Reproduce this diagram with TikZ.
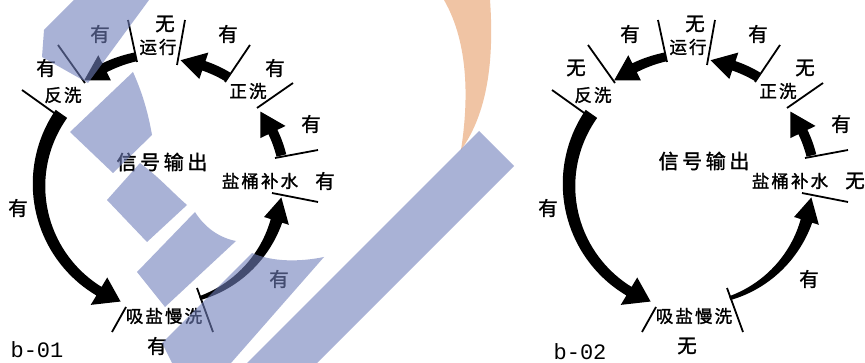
\documentclass[tikz,border=0pt]{standalone}
\usepackage{fontspec}
\newfontfamily\cjk[FakeBold=1.5]{Noto Sans CJK SC}
\newfontfamily\cjksp[FakeBold=1.5,LetterSpace=12]{Noto Sans CJK SC}
\newfontfamily\cjkwide[FakeBold=1.5,LetterSpace=18]{Noto Sans CJK SC}
\newfontfamily\monofam{Liberation Mono}
\usetikzlibrary{calc}
\definecolor{wmblue}{RGB}{113,127,187}
\definecolor{wmorange}{RGB}{240,196,164}
\tikzset{
  tickline/.style={line width=1.8pt, black},
  yw/.style={font=\cjk\fontsize{19.5}{19.5}\selectfont, inner sep=0pt},
  st/.style={font=\cjksp\fontsize{17.5}{17.5}\selectfont, inner sep=0pt},
  ttl/.style={font=\cjkwide\fontsize{20}{20}\selectfont, inner sep=0pt},
  bl/.style={font=\monofam\fontsize{22}{22}\selectfont, inner sep=0pt},
  wm/.style={fill=wmblue, fill opacity=0.6},
}
% tapered curved arrow: cx cy r a1 a2(tip) w1 w2 halfheadwidth
\newcommand\tarr[8]{%
  \pgfmathsetmacro\ab{#5-24/#3*57.2958}%
  \fill[black] plot[domain=#4:\ab,samples=40,variable=\ang]
    ({#1+(#3+(#6+(#7-#6)*(\ang-#4)/(\ab-#4))/2)*cos(\ang)},{#2-(#3+(#6+(#7-#6)*(\ang-#4)/(\ab-#4))/2)*sin(\ang)})
    -- ({#1+(#3+#8)*cos(\ab)},{#2-(#3+#8)*sin(\ab)})
    -- ({#1+#3*cos(#5)},{#2-#3*sin(#5)})
    -- ({#1+(#3-#8)*cos(\ab)},{#2-(#3-#8)*sin(\ab)})
    -- plot[domain=\ab:#4,samples=40,variable=\ang]
    ({#1+(#3-(#6+(#7-#6)*(\ang-#4)/(\ab-#4))/2)*cos(\ang)},{#2-(#3-(#6+(#7-#6)*(\ang-#4)/(\ab-#4))/2)*sin(\ang)})
    -- cycle;}
% one cycle diagram: xshift, suffix, labels for 运行 反洗 正洗 盐桶补水 吸盐慢洗
\newcommand\cyc[7]{%
\begin{scope}[xshift=#1pt]
  \draw[tickline] (658,20) -- (667,62);
  \draw[tickline] (715,20) -- (707,65);
  \draw[tickline] (780,45) -- (755,82);
  \draw[tickline] (823,83) -- (787,108);
  \draw[tickline] (805,158) -- (848,150);
  \draw[tickline] (802,193) -- (848,202);
  \draw[tickline] (727,288) -- (743,332);
  \draw[tickline] (656,307) -- (642,332);
  \draw[tickline] (552,90) -- (587,115);
  \draw[tickline] (588,45) -- (615,83);
  \tarr{693}{185}{131}{102}{127}{9}{10}{14}
  \tarr{693}{185}{126}{59}{82}{10}{10}{14}
  \tarr{693}{185}{122}{14}{37}{10}{10}{14}
  \tarr{693}{185}{119}{-72}{-6}{4}{12}{13}
  \tarr{693}{185}{124}{145}{250}{14}{10}{16}
  \node[st] (yx#2) at (688,47) {运行};
  \node[yw] (yxl#2) at (695,24) {#3};
  \node[st] (fx#2) at (593,95) {反洗};
  \node[yw] (fxl#2) at (576,68) {#4};
  \node[st] (zx#2) at (778,91) {正洗};
  \node[yw] (zxl#2) at (805,68) {#5};
  \node[st] (yt#2) at (790,181) {盐桶补水};
  \node[yw] (ytl#2) at (855,181) {#6};
  \node[st] (xy#2) at (694,316) {吸盐慢洗};
  \node[yw] (xyl#2) at (687,346) {#7};
  \node[yw] (a1#2) at (630,34) {有};
  \node[yw] (a2#2) at (758,34) {有};
  \node[yw] (a3#2) at (841,124) {有};
  \node[yw] (a4#2) at (809,279) {有};
  \node[yw] (a5#2) at (548,208) {有};
\end{scope}}
\begin{document}
\begin{tikzpicture}[x=1pt,y=-1pt]
\useasboundingbox (0,0) rectangle (865,363);
\fill[white] (0,0) rectangle (865,363);
% orange watermark stroke
\fill[wmorange] (444,0) .. controls (470,45) and (468,105) .. (461,150)
   .. controls (484,118) and (495,70) .. (490,0) -- cycle;
% diagrams
\cyc{-530}{L}{无}{有}{有}{有}{有}
\cyc{0}{R}{无}{无}{无}{无}{无}
\node[ttl] (sigL) at (162,162) {信号输出};
\node[ttl] (sigR) at (704,161) {信号输出};
\node[bl] (b1) at (37,350) {b-01};
\node[bl] (b2) at (580,352) {b-02};
% blue watermark on top
\fill[wm] (74,0) -- (149,0) -- (88,83) -- (42,57) -- (44,30) -- cycle;
\fill[wm] (133,72) .. controls (142,92) and (148,112) .. (152,135) -- (113,173) -- (70,132) -- cycle;
\fill[wm] (140,163) .. controls (160,178) and (172,192) .. (187,205) -- (147,242) -- (107,200) -- cycle;
\fill[wm] (137,272) -- (195,212) .. controls (205,228) and (220,238) .. (236,241) -- (165,307) -- cycle;
\fill[wm] (252,253) .. controls (272,262) and (300,262) .. (324,257) -- (231,363) -- (172,363) -- (162,343) -- cycle;
\fill[wm] (479,131) -- (514,166) -- (317,363) -- (247,363) -- cycle;
\end{tikzpicture}
\end{document}
